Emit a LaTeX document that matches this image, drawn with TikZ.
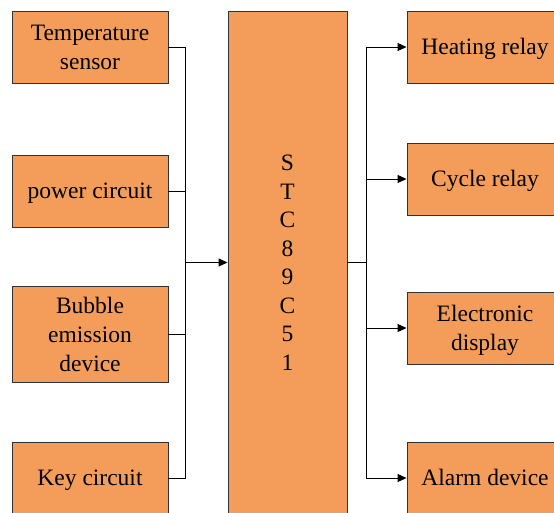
\documentclass[tikz,border=0pt]{standalone}
\usepackage{fontspec}
\setmainfont{Liberation Serif}
\usetikzlibrary{arrows.meta}
\definecolor{boxfill}{RGB}{244,157,90}
\definecolor{boxline}{RGB}{50,50,50}
\tikzset{
  txt/.style={inner sep=0pt, align=center, font=\fontsize{23.5}{29}\selectfont},
  blk/.style={txt, draw=boxline, line width=0.9pt, fill=boxfill, minimum width=156pt, minimum height=72pt},
  oneline/.style={blk, text height=15.5pt, text depth=0pt},
  wire/.style={draw=black, line width=0.9pt},
  arr/.style={wire, -{Triangle[length=9pt,width=8pt]}}
}
\begin{document}
\begin{tikzpicture}[x=1pt,y=-1pt]
\useasboundingbox (0,0) rectangle (554,512);
\begin{scope}
\clip (0,0) rectangle (554,512);
% left
\node[blk] (ts) at (90,47) {Temperature\\sensor};
\node[oneline] (pc) at (90,191) {power circuit};
\node[blk, minimum height=96pt] (be) at (90,334) {Bubble\\emission\\device};
\node[oneline] (kc) at (90,478) {Key circuit};
% center
\node[blk, minimum width=119pt, minimum height=503pt, font=\fontsize{23.5}{28.5}\selectfont] (mcu) at (287.5,262.5) {S\\T\\C\\8\\9\\C\\5\\1};
% right
\node[oneline] (hr) at (485,47) {Heating relay};
\node[oneline] (cr) at (485,179) {Cycle relay};
\node[blk] (ed) at (485,328) {};
\node[txt] (edt) at ([yshift=-2.5pt]ed.center) {Electronic\\display};
\node[oneline] (ad) at (485,478) {Alarm device};
\coordinate (jl) at (185.5,262.5);
\coordinate (jr) at (366,262.5);
% left wires
\draw[wire] (ts.east) -| (jl);
\draw[wire] (pc.east) -| (jl);
\draw[wire] (be.east) -| (jl);
\draw[wire] (kc.east) -| (jl);
\draw[arr] (jl) -- (mcu.west);
% right wires
\draw[wire] (mcu.east) -- (jr);
\draw[arr] (jr) |- (hr.west);
\draw[arr] (jr) |- (cr.west);
\draw[arr] (jr) |- (ed.west);
\draw[arr] (jr) |- (ad.west);
\end{scope}
\end{tikzpicture}
\end{document}
